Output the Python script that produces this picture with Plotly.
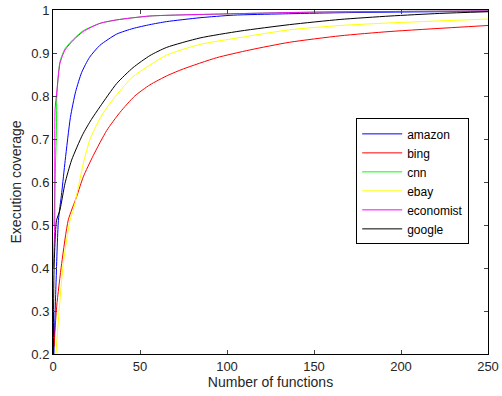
import plotly.graph_objects as go

amazon_x = [0.5, 1.7, 3.1, 5, 7, 10, 13, 16.5, 21, 27, 36.6, 46, 55.7, 65.3, 84.5, 103.6, 132, 170, 250]
amazon_y = [0.2, 0.36, 0.51, 0.575, 0.65, 0.75, 0.81, 0.855, 0.89, 0.918, 0.944, 0.957, 0.966, 0.973, 0.982, 0.988, 0.991, 0.994, 0.997]

bing_x = [0.6, 2.1, 5, 8.8, 13.6, 17.4, 23.2, 30.9, 38.5, 47, 55.7, 66, 74.9, 94, 113, 136, 165, 193.7, 250]
bing_y = [0.217, 0.31, 0.411, 0.512, 0.566, 0.612, 0.662, 0.72, 0.762, 0.8, 0.826, 0.848, 0.863, 0.889, 0.907, 0.925, 0.94, 0.95, 0.964]

cnn_x = [0.5, 2, 2.2, 4, 6.9, 11.7, 17.4, 27, 36.6, 55.7, 90, 150, 250]
cnn_y = [0.5, 0.73, 0.8, 0.88, 0.91, 0.932, 0.952, 0.969, 0.977, 0.986, 0.99, 0.995, 0.998]

ebay_x = [1.7, 3.1, 5.9, 9.8, 11.7, 14.6, 17.4, 21.3, 27, 30.8, 36.6, 46, 65.3, 84.5, 107.5, 136, 165, 193.7, 250]
ebay_y = [0.2, 0.279, 0.411, 0.512, 0.535, 0.589, 0.643, 0.7, 0.748, 0.772, 0.803, 0.845, 0.895, 0.92, 0.936, 0.954, 0.964, 0.97, 0.979]

economist_x = [0.2, 1, 1.2, 2.1, 4, 6.9, 11.7, 17.4, 27, 36.6, 55.7, 100, 150, 250]
economist_y = [0.4, 0.5, 0.77, 0.806, 0.876, 0.907, 0.93, 0.95, 0.969, 0.977, 0.986, 0.991, 0.995, 0.998]

google_x = [0.2, 0.6, 2, 4, 6.9, 10.7, 17, 22, 27, 36.6, 46, 55.7, 65.3, 84.5, 107.5, 136, 165, 193.7, 222, 250]
google_y = [0.2, 0.395, 0.51, 0.535, 0.597, 0.651, 0.71, 0.745, 0.775, 0.829, 0.866, 0.894, 0.913, 0.935, 0.951, 0.966, 0.978, 0.986, 0.992, 0.996]

series = [
    ("amazon", amazon_x, amazon_y, "#0000ff"),
    ("bing", bing_x, bing_y, "#ff0000"),
    ("cnn", cnn_x, cnn_y, "#00ff00"),
    ("ebay", ebay_x, ebay_y, "#ffff00"),
    ("economist", economist_x, economist_y, "#ff00ff"),
    ("google", google_x, google_y, "#000000"),
]

x_ticks = [0, 50, 100, 150, 200, 250]
y_ticks = [0.2, 0.3, 0.4, 0.5, 0.6, 0.7, 0.8, 0.9, 1]
y_labels = ["0.2", "0.3", "0.4", "0.5", "0.6", "0.7", "0.8", "0.9", "1"]

fig = go.Figure()
for name, xs, ys, col in series:
    fig.add_trace(go.Scatter(x=xs, y=ys, mode="lines", name=name,
                             line=dict(color=col, width=1, shape="spline", smoothing=0.6)))

font = dict(family="Liberation Sans, Arial, sans-serif", size=12, color="#262626")

fig.update_layout(
    width=502, height=396,
    margin=dict(l=53, r=14, t=10, b=42),
    paper_bgcolor="white", plot_bgcolor="white",
    font=font,
    showlegend=True,
    legend=dict(x=0.697, y=0.685, xanchor="left", yanchor="top",
                bordercolor="black", borderwidth=1, bgcolor="white",
                font=dict(family="Liberation Sans, Arial, sans-serif", size=12, color="black"),
                tracegroupgap=0, itemwidth=40),
)
fig.update_xaxes(range=[0, 250], tickvals=x_ticks, ticks="inside", ticklen=4,
                 showline=True, linecolor="black", linewidth=1, mirror="ticks",
                 showgrid=False, zeroline=False, automargin=False,
                 title=dict(text="Number of functions", standoff=4),
                 tickfont=dict(size=13))
fig.update_yaxes(range=[0.2, 1], tickvals=y_ticks, ticktext=y_labels, ticks="inside", ticklen=4,
                 showline=True, linecolor="black", linewidth=1, mirror="ticks",
                 showgrid=False, zeroline=False, automargin=False,
                 title=dict(text="Execution coverage", standoff=6),
                 tickfont=dict(size=13))

fig.write_html("out.html")
